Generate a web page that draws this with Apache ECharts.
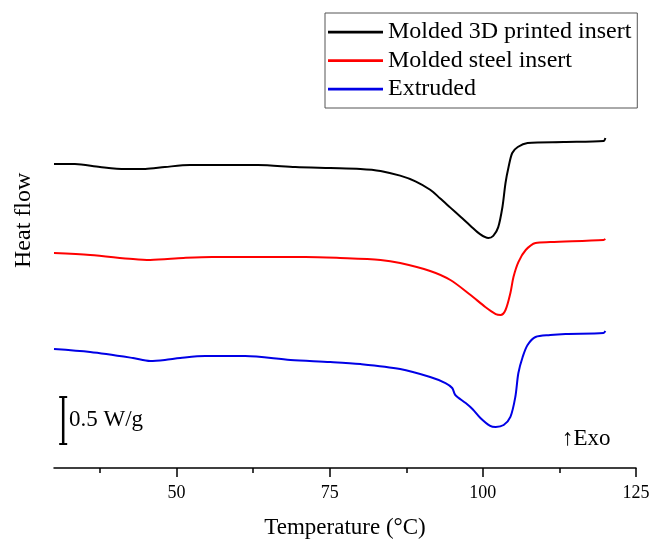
<!DOCTYPE html>
<html>
<head>
<meta charset="utf-8">
<script src="https://cdn.jsdelivr.net/npm/echarts@6/dist/echarts.min.js"></script>
<style>
html,body{margin:0;padding:0;background:#fff;}
#chart{width:653px;height:540px;}
</style>
</head>
<body>
<div id="chart"></div>
<script>
// Temperature (°C) and heat flow (W/g, offset curves)
const black3D = [[30,3.234],[33.4,3.234],[37.5,3.202],[41.6,3.181],[44.9,3.181],[48.1,3.202],[52.2,3.223],[63.3,3.223],[69.4,3.202],[75.1,3.191],[80,3.181],[83.3,3.16],[86.5,3.11],[89,3.05],[91.4,2.96],[93,2.87],[94.7,2.77],[96.4,2.67],[98,2.575],[99.6,2.485],[100.9,2.447],[101.7,2.47],[102.5,2.56],[103.2,2.777],[103.7,3.032],[104.2,3.202],[104.8,3.351],[105.7,3.415],[107.3,3.457],[113.2,3.468],[119.7,3.479],[120,3.511]];
const redSteel = [[30,2.287],[35.9,2.266],[42.9,2.223],[45.7,2.213],[51.1,2.234],[55.8,2.245],[71,2.245],[76.7,2.234],[83.3,2.213],[86.5,2.181],[91.4,2.096],[94.7,2.0],[98,1.84],[100.4,1.713],[102.1,1.638],[102.9,1.628],[103.7,1.681],[104.5,1.862],[105,2.032],[105.8,2.191],[107,2.319],[108.6,2.394],[111,2.404],[119.7,2.426],[120,2.436]];
const blueExtruded = [[30,1.266],[35.9,1.234],[42.9,1.17],[45.7,1.138],[48.1,1.149],[50.6,1.17],[54.7,1.191],[61.2,1.191],[68.6,1.149],[75.1,1.128],[80,1.106],[86.5,1.053],[91.4,0.968],[93.9,0.904],[95,0.851],[95.5,0.777],[97.2,0.691],[98.3,0.628],[99.6,0.532],[101.2,0.447],[102.1,0.436],[103.4,0.457],[104.5,0.543],[105.3,0.755],[105.8,1.011],[106.5,1.181],[107.3,1.309],[108.6,1.394],[111,1.415],[113.5,1.426],[119.7,1.436],[120,1.457]];
const scaleBar = [[31.5,0.255],[31.5,0.755]];
const seriesNames = ['Molded 3D printed insert','Molded steel insert','Extruded'];
const majorTicks = [50,75,100,125];
const minorTicks = [37.5,62.5,87.5,112.5];

const FONT = "'Liberation Serif','Times New Roman',serif";
const chart = echarts.init(document.getElementById('chart'), null, {renderer:'canvas'});
function lineSeries(name, data, color){
  return {name, type:'line', data, showSymbol:false, symbol:'none', smooth:0.3,
    lineStyle:{color, width:2}, itemStyle:{color}, xAxisIndex:0, yAxisIndex:0, z:3};
}
chart.setOption({
  animation:false,
  backgroundColor:'#fff',
  grid:{left:54, right:17, top:92, bottom:72, containLabel:false, outerBoundsMode:'none'},
  legend:{
    orient:'vertical', left:325, top:13,
    data:seriesNames,
    itemWidth:55, itemHeight:20, itemGap:4.5,
    padding:[7,6,7,3],
    borderColor:'#555', borderWidth:1,
    textStyle:{fontFamily:FONT, fontSize:24, color:'#000'},
    icon:'path://M0,0L20,0L20,1L0,1Z'
  },
  xAxis:[{
    type:'value', min:30, max:125,
    name:'Temperature (°C)', nameLocation:'middle', nameGap:48,
    nameTextStyle:{fontFamily:FONT, fontSize:23, color:'#000'},
    axisLine:{show:true, onZero:false, lineStyle:{color:'#000', width:1.5}},
    axisTick:{show:true, inside:false, length:9, customValues:majorTicks, lineStyle:{color:'#000', width:1.5}},
    axisLabel:{show:true, customValues:majorTicks, margin:16, fontFamily:FONT, fontSize:18, color:'#000'},
    splitLine:{show:false}
  },{
    type:'value', min:30, max:125, position:'bottom',
    axisLine:{show:false},
    axisTick:{show:true, length:5, customValues:minorTicks, lineStyle:{color:'#000', width:1.5}},
    axisLabel:{show:false},
    splitLine:{show:false}
  }],
  yAxis:[{
    type:'value', min:0, max:4,
    axisLine:{show:false}, axisTick:{show:false}, axisLabel:{show:false}, splitLine:{show:false}
  }],
  graphic:[
    {type:'text', x:12, y:268, rotation:Math.PI/2, style:{text:'Heat flow', fontFamily:FONT, fontSize:24, fill:'#000'}},
    {type:'text', x:69, y:408, style:{text:'0.5 W/g', fontFamily:FONT, fontSize:23, fill:'#000'}},
    {type:'text', x:562, y:427, style:{text:'↑Exo', fontFamily:FONT, fontSize:23, fill:'#000'}}
  ],
  series:[
    lineSeries(seriesNames[0], black3D, '#000000'),
    lineSeries(seriesNames[1], redSteel, '#ff0000'),
    lineSeries(seriesNames[2], blueExtruded, '#0000e6'),
    {type:'line', data:scaleBar, symbol:'rect', symbolSize:[8,2], showSymbol:true,
     lineStyle:{color:'#000', width:2.5}, itemStyle:{color:'#000'}, z:4}
  ]
});
</script>
</body>
</html>
